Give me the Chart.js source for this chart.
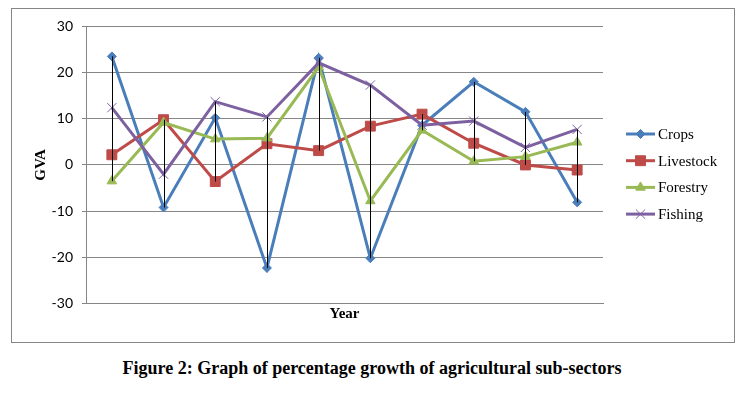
<!DOCTYPE html>
<html lang="en">
<head>
    <meta charset="UTF-8">
    <title>Percentage growth of agricultural sub-sectors</title>
    <script src="https://cdn.jsdelivr.net/npm/chart.js"></script>
    <style>
        body {
            margin: 0;
            background: #fff;
            width: 744px;
            height: 393px;
            position: relative;
            overflow: hidden;
        }

        .frame {
            position: absolute;
            left: 11px;
            top: 8px;
            width: 722px;
            height: 333px;
            border: 1px solid #868686;
        }

        .caption {
            position: absolute;
            left: 0;
            width: 744px;
            top: 358px;
            text-align: center;
            font-family: "Liberation Serif", serif;
            font-weight: bold;
            font-size: 18px;
        }
    </style>
</head>
<body>
    <div class="frame">
        <canvas id="gvaChart" width="722" height="333"></canvas>
    </div>
    <div class="caption">Figure 2: Graph of percentage growth of agricultural sub-sectors</div>

    <script>
        // data (no year labels shown on the axis)
        const years = ['1', '2', '3', '4', '5', '6', '7', '8', '9', '10'];
        const crops = [23.5, -9.2, 10.2, -22.3, 23.2, -20.2, 8.6, 18.0, 11.5, -8.1];
        const livestock = [2.2, 9.8, -3.6, 4.6, 3.1, 8.4, 11.0, 4.7, 0.0, -1.1];
        const forestry = [-3.5, 9.2, 5.6, 5.8, 21.2, -7.8, 7.5, 0.8, 1.8, 4.9];
        const fishing = [12.4, -2.0, 13.7, 10.4, 22.1, 17.3, 8.6, 9.5, 3.8, 7.7];
        const yTicks = [-30, -20, -10, 0, 10, 20, 30];

        const gridGray = '#868686';

        // high-low lines: black line from max to min value of each year
        const hiLoLines = {
            id: 'hiLoLines',
            afterDatasetsDraw(chart) {
                const ctx = chart.ctx;
                const x = chart.scales.x;
                const y = chart.scales.y;
                ctx.save();
                ctx.strokeStyle = '#000';
                ctx.lineWidth = 1;
                years.forEach((yr, i) => {
                    const vals = chart.data.datasets.map(d => d.data[i]);
                    const px = Math.round(x.getPixelForValue(i)) + 0.5;
                    ctx.beginPath();
                    ctx.moveTo(px, y.getPixelForValue(Math.max(...vals)));
                    ctx.lineTo(px, y.getPixelForValue(Math.min(...vals)));
                    ctx.stroke();
                });
                ctx.restore();
            }
        };

        // Excel style legend: short line with the marker in the middle
        const sideLegend = {
            id: 'sideLegend',
            afterDraw(chart) {
                const ctx = chart.ctx;
                const left = 614, lineLen = 29, top = 125, rowGap = 26.7;
                ctx.save();
                ctx.font = '15px "Liberation Serif", serif';
                ctx.textBaseline = 'middle';
                chart.data.datasets.forEach((d, i) => {
                    const cy = top + i * rowGap;
                    ctx.strokeStyle = d.borderColor;
                    ctx.lineWidth = 3;
                    ctx.beginPath();
                    ctx.moveTo(left, cy);
                    ctx.lineTo(left + lineLen, cy);
                    ctx.stroke();
                    ctx.fillStyle = d.pointBackgroundColor;
                    ctx.strokeStyle = d.pointBorderColor;
                    ctx.lineWidth = 1;
                    Chart.helpers.drawPoint(ctx, {
                        pointStyle: d.pointStyle,
                        radius: d.pointRadius,
                        borderWidth: 1
                    }, left + lineLen / 2, cy);
                    ctx.fillStyle = '#000';
                    ctx.fillText(d.label, left + lineLen + 3, cy + 1);
                });
                ctx.restore();
            }
        };

        function series(label, values, color, style, radius, order) {
            return {
                label: label,
                data: values,
                borderColor: color,
                backgroundColor: color,
                borderWidth: 3,
                pointStyle: style,
                pointRadius: radius,
                pointHoverRadius: radius,
                pointBackgroundColor: color,
                pointBorderColor: color,
                pointBorderWidth: 1,
                tension: 0,
                order: order
            };
        }

        new Chart(document.getElementById('gvaChart'), {
            type: 'line',
            data: {
                labels: years,
                datasets: [
                    series('Crops', crops, '#4A7EBB', 'rectRot', 4.5, 3),
                    series('Livestock', livestock, '#BE4B48', 'rect', 7, 2),
                    series('Forestry', forestry, '#98B954', 'triangle', 5.5, 1),
                    series('Fishing', fishing, '#7D60A0', 'crossRot', 6.5, 0)
                ]
            },
            options: {
                responsive: false,
                animation: false,
                layout: { padding: { top: 6, right: 131, left: 0, bottom: 0 } },
                plugins: {
                    legend: { display: false },
                    tooltip: { enabled: false }
                },
                scales: {
                    x: {
                        offset: true,
                        grid: { display: false, drawTicks: false },
                        border: { display: true, color: gridGray, width: 1 },
                        ticks: { display: false },
                        title: {
                            display: true,
                            text: 'Year',
                            color: '#000',
                            font: { family: '"Liberation Serif", serif', weight: 'bold', size: 15 },
                            padding: { top: 4, bottom: 19 }
                        },
                        afterFit(scale) { scale.height = 38.5; }
                    },
                    y: {
                        min: -30,
                        max: 30,
                        afterBuildTicks(scale) {
                            scale.ticks = yTicks.map(v => ({ value: v }));
                        },
                        grid: { color: gridGray, lineWidth: 1, tickLength: 4 },
                        border: { display: true, color: gridGray, width: 1 },
                        ticks: {
                            color: '#000',
                            padding: 9,
                            font: { family: 'Lato, sans-serif', size: 14 }
                        },
                        title: {
                            display: true,
                            text: 'GVA',
                            color: '#000',
                            font: { family: '"Liberation Serif", serif', weight: 'bold', size: 15 },
                            padding: { top: 20, bottom: 0 }
                        },
                        afterFit(scale) { scale.width = 74; }
                    }
                }
            },
            plugins: [hiLoLines, sideLegend]
        });
    </script>
</body>
</html>
